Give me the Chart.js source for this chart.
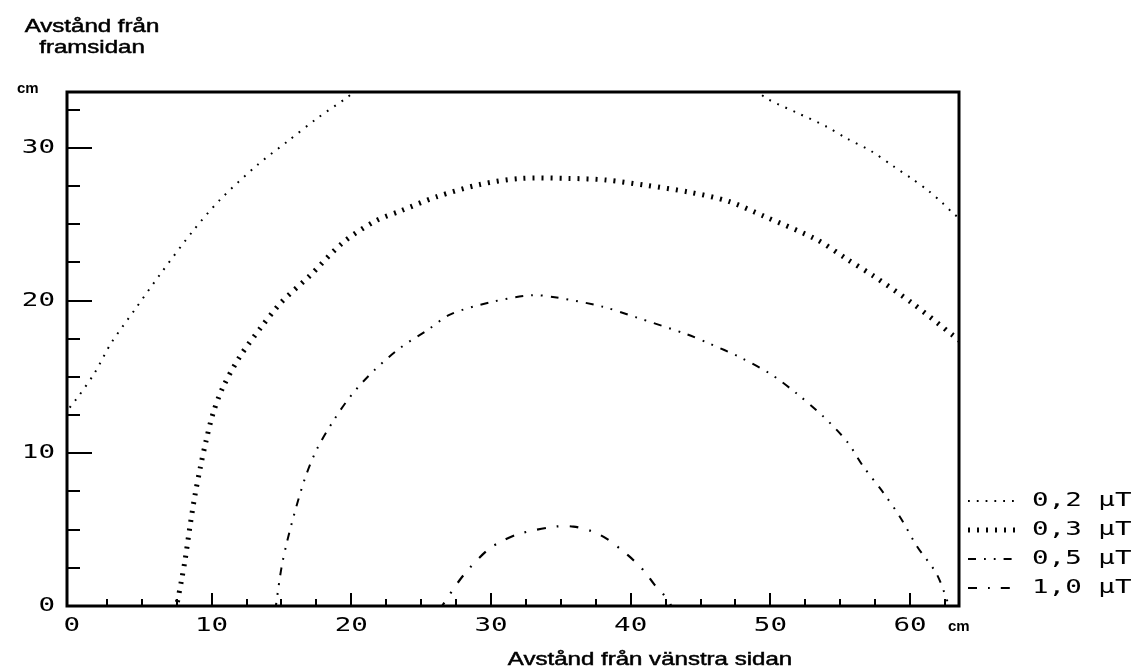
<!DOCTYPE html>
<html>
<head>
<meta charset="utf-8">
<script src="https://cdn.jsdelivr.net/npm/chart.js@4.4.1/dist/chart.umd.min.js"></script>
<style>
  html, body { margin: 0; padding: 0; background: #fff; }
  canvas { display: block; }
</style>
</head>
<body>
<canvas id="c" width="1131" height="672"></canvas>
<script>
// Field-strength contours (µT) around the appliance, distances in cm.
const levelLabels = ['0,2 µT', '0,3 µT', '0,5 µT', '1,0 µT'];

// 0,2 µT contour: two branches that leave through the top edge
const curve02Left = [
  [-0.5, 12.5], [0, 13.2], [0.45, 13.7], [1.65, 15.3], [2.8, 17.2], [4.5, 19.4],
  [6.3, 21.7], [8.7, 24.6], [10.6, 26.6], [13.3, 28.9], [15.4, 30.4],
  [17.5, 31.9], [19.7, 33.3], [20.4, 33.8]
];
const curve02Right = [
  [48.9, 33.8], [49.8, 33.2], [51.9, 32.3], [54.0, 31.4], [55.5, 30.6],
  [57.2, 29.8], [58.8, 28.8], [60.1, 28.0], [61.3, 27.2], [62.3, 26.4],
  [63.1, 25.7], [63.8, 25.2]
];
// 0,3 µT contour
const curve03 = [
  [7.45, -0.3], [7.5, 0], [7.85, 1.7], [8.1, 3.0], [8.45, 5.2], [8.8, 7.2], [9.2, 9.1],
  [9.6, 10.8], [10.1, 12.6], [10.8, 14.3], [12.0, 16.3], [13.5, 18.2],
  [15.0, 19.9], [17.0, 21.6], [19.4, 23.8], [21.7, 25.2], [23.6, 25.9],
  [26.1, 26.8], [29.2, 27.6], [32.1, 28.0], [35.6, 28.0], [38.2, 27.9],
  [41.1, 27.55], [44.2, 27.1], [47.0, 26.5], [49.6, 25.5], [53.3, 24.0],
  [55.5, 22.7], [57.4, 21.6], [60.2, 19.8], [63.1, 17.7], [63.8, 17.2]
];
// 0,5 µT contour
const curve05 = [
  [14.55, -0.3], [14.6, 0], [15.0, 2.5], [15.4, 4.2], [16.0, 6.3], [16.7, 8.4], [17.5, 10.2],
  [18.7, 12.1], [20.0, 13.8], [21.6, 15.4], [23.5, 16.9], [25.5, 18.1],
  [27.1, 19.1], [30.0, 19.9], [32.9, 20.35], [34.7, 20.2], [38.0, 19.6],
  [40.4, 18.9], [44.0, 17.8], [45.6, 17.2], [47.8, 16.3], [50.0, 15.2],
  [51.9, 13.9], [53.8, 12.4], [55.5, 10.75], [56.6, 9.2], [58.1, 7.4],
  [59.3, 5.8], [60.5, 3.9], [61.9, 2.1], [62.8, 0], [63.0, -0.4]
];
// 1,0 µT contour
const curve10 = [
  [26.4, -0.3], [26.5, 0], [28.1, 2.1], [29.8, 3.7], [30.9, 4.3], [32.1, 4.75],
  [34.6, 5.2], [35.9, 5.2], [37.2, 4.9], [38.3, 4.4], [39.3, 3.7],
  [40.2, 3.0], [41.0, 2.25], [41.7, 1.4], [42.6, 0.5], [42.9, 0], [43.0, -0.3]
];

// Axis ticks
const xMajorTicks = [0, 10, 20, 30, 40, 50, 60];
const yMajorTicks = [0, 10, 20, 30];
const minorStep = 2.5;
const xTickValues = Array.from({ length: 26 }, (_, i) => i * minorStep);
const yTickValues = Array.from({ length: 14 }, (_, i) => i * minorStep);

const yTitleLines = ['Avstånd från', 'framsidan'];
const xTitle = 'Avstånd från vänstra sidan';
const unitLabel = 'cm';

const toPoints = arr => arr.map(([x, y]) => ({ x, y }));

const lineStyles = [
  { borderWidth: 2,   borderDash: [1.8, 7] },
  { borderWidth: 5,   borderDash: [2, 7] },
  { borderWidth: 2,   borderDash: [8, 8, 1.8, 8, 1.8, 8] },
  { borderWidth: 2.2, borderDash: [9, 11, 1.8, 11] }
];

const seriesData = [
  [...toPoints(curve02Left), { x: 35, y: null }, ...toPoints(curve02Right)],
  toPoints(curve03),
  toPoints(curve05),
  toPoints(curve10)
];

const digitFont = '19px "DejaVu Sans Mono"';
const digitStretch = 1.45;
const textFont = '18.5px "Liberation Sans", Arial, sans-serif';
const textStretch = 1.3;

function drawStretched(ctx, text, x, y, font, stretch, align, baseline, outline) {
  ctx.save();
  ctx.font = font;
  ctx.textAlign = align;
  ctx.textBaseline = baseline || 'middle';
  ctx.translate(x, y);
  ctx.scale(stretch, 1);
  ctx.fillText(text, 0, 0);
  if (outline) {
    ctx.lineWidth = outline;
    ctx.strokeText(text, 0, 0);
  }
  ctx.restore();
}

// Frame, inward tick marks, tick labels, titles and legend
const plotDecor = {
  id: 'plotDecor',
  afterDraw(chart) {
    const { ctx, chartArea: a, scales: { x, y } } = chart;
    ctx.save();
    ctx.fillStyle = '#000';
    ctx.strokeStyle = '#000';
    ctx.lineCap = 'butt';

    // inward tick marks
    ctx.lineWidth = 2;
    ctx.beginPath();
    y.ticks.forEach(t => {
      if (t.value <= 0) return;
      const py = Math.round(y.getPixelForValue(t.value));
      const len = yMajorTicks.includes(t.value) ? 25 : 13;
      ctx.moveTo(a.left, py);
      ctx.lineTo(a.left + len, py);
    });
    x.ticks.forEach(t => {
      if (t.value <= 0) return;
      const px = Math.round(x.getPixelForValue(t.value));
      const len = xMajorTicks.includes(t.value) ? 13 : 7;
      ctx.moveTo(px, a.bottom);
      ctx.lineTo(px, a.bottom - len);
    });
    ctx.stroke();

    // frame
    ctx.lineWidth = 3;
    ctx.strokeRect(a.left, a.top, a.right - a.left, a.bottom - a.top);

    // tick labels
    yMajorTicks.forEach(v => {
      drawStretched(ctx, String(v), 55, y.getPixelForValue(v), digitFont, digitStretch, 'right');
    });
    xMajorTicks.forEach(v => {
      drawStretched(ctx, String(v), x.getPixelForValue(v), a.bottom + 20, digitFont, digitStretch, 'center');
    });

    // units
    ctx.font = 'bold 15px "Liberation Sans", Arial, sans-serif';
    ctx.textAlign = 'left';
    ctx.textBaseline = 'middle';
    ctx.fillText(unitLabel, 17, a.top - 3);
    ctx.fillText(unitLabel, a.right - 11, a.bottom + 21);

    // axis titles
    drawStretched(ctx, yTitleLines[0], 92, 27, textFont, textStretch, 'center', 'middle', 0.5);
    drawStretched(ctx, yTitleLines[1], 92, 48, textFont, textStretch, 'center', 'middle', 0.5);
    drawStretched(ctx, xTitle, 650, 660, textFont, textStretch, 'center', 'middle', 0.5);

    // legend
    const rowY = [501, 530, 559, 588];
    chart.data.datasets.forEach((ds, i) => {
      const yy = rowY[i];
      ctx.save();
      ctx.lineWidth = ds.borderWidth;
      ctx.setLineDash(ds.borderDash);
      ctx.beginPath();
      ctx.moveTo(968, yy);
      ctx.lineTo(1018, yy);
      ctx.stroke();
      ctx.restore();
      drawStretched(ctx, ds.label, 1032, yy, digitFont, digitStretch, 'left');
    });
    ctx.restore();
  }
};

new Chart(document.getElementById('c'), {
  type: 'scatter',
  data: {
    datasets: seriesData.map((d, i) => ({
      label: levelLabels[i],
      data: d,
      showLine: true,
      fill: false,
      tension: 0.3,
      pointRadius: 0,
      pointHoverRadius: 0,
      borderColor: '#000',
      borderCapStyle: 'butt',
      borderWidth: lineStyles[i].borderWidth,
      borderDash: lineStyles[i].borderDash,
      spanGaps: false
    }))
  },
  options: {
    responsive: false,
    animation: false,
    devicePixelRatio: 1,
    layout: { padding: { left: 0, top: 92, right: 172, bottom: 0 } },
    plugins: { legend: { display: false }, tooltip: { enabled: false }, title: { display: false } },
    scales: {
      x: {
        type: 'linear',
        min: -0.35,
        max: 63.5,
        grid: { display: false },
        border: { display: false },
        ticks: { display: false },
        afterBuildTicks: s => { s.ticks = xTickValues.map(v => ({ value: v })); },
        afterFit: s => { s.height = 66; }
      },
      y: {
        type: 'linear',
        min: 0,
        max: 33.66,
        grid: { display: false },
        border: { display: false },
        ticks: { display: false },
        afterBuildTicks: s => { s.ticks = yTickValues.map(v => ({ value: v })); },
        afterFit: s => { s.width = 67; }
      }
    }
  },
  plugins: [plotDecor]
});
</script>
</body>
</html>
